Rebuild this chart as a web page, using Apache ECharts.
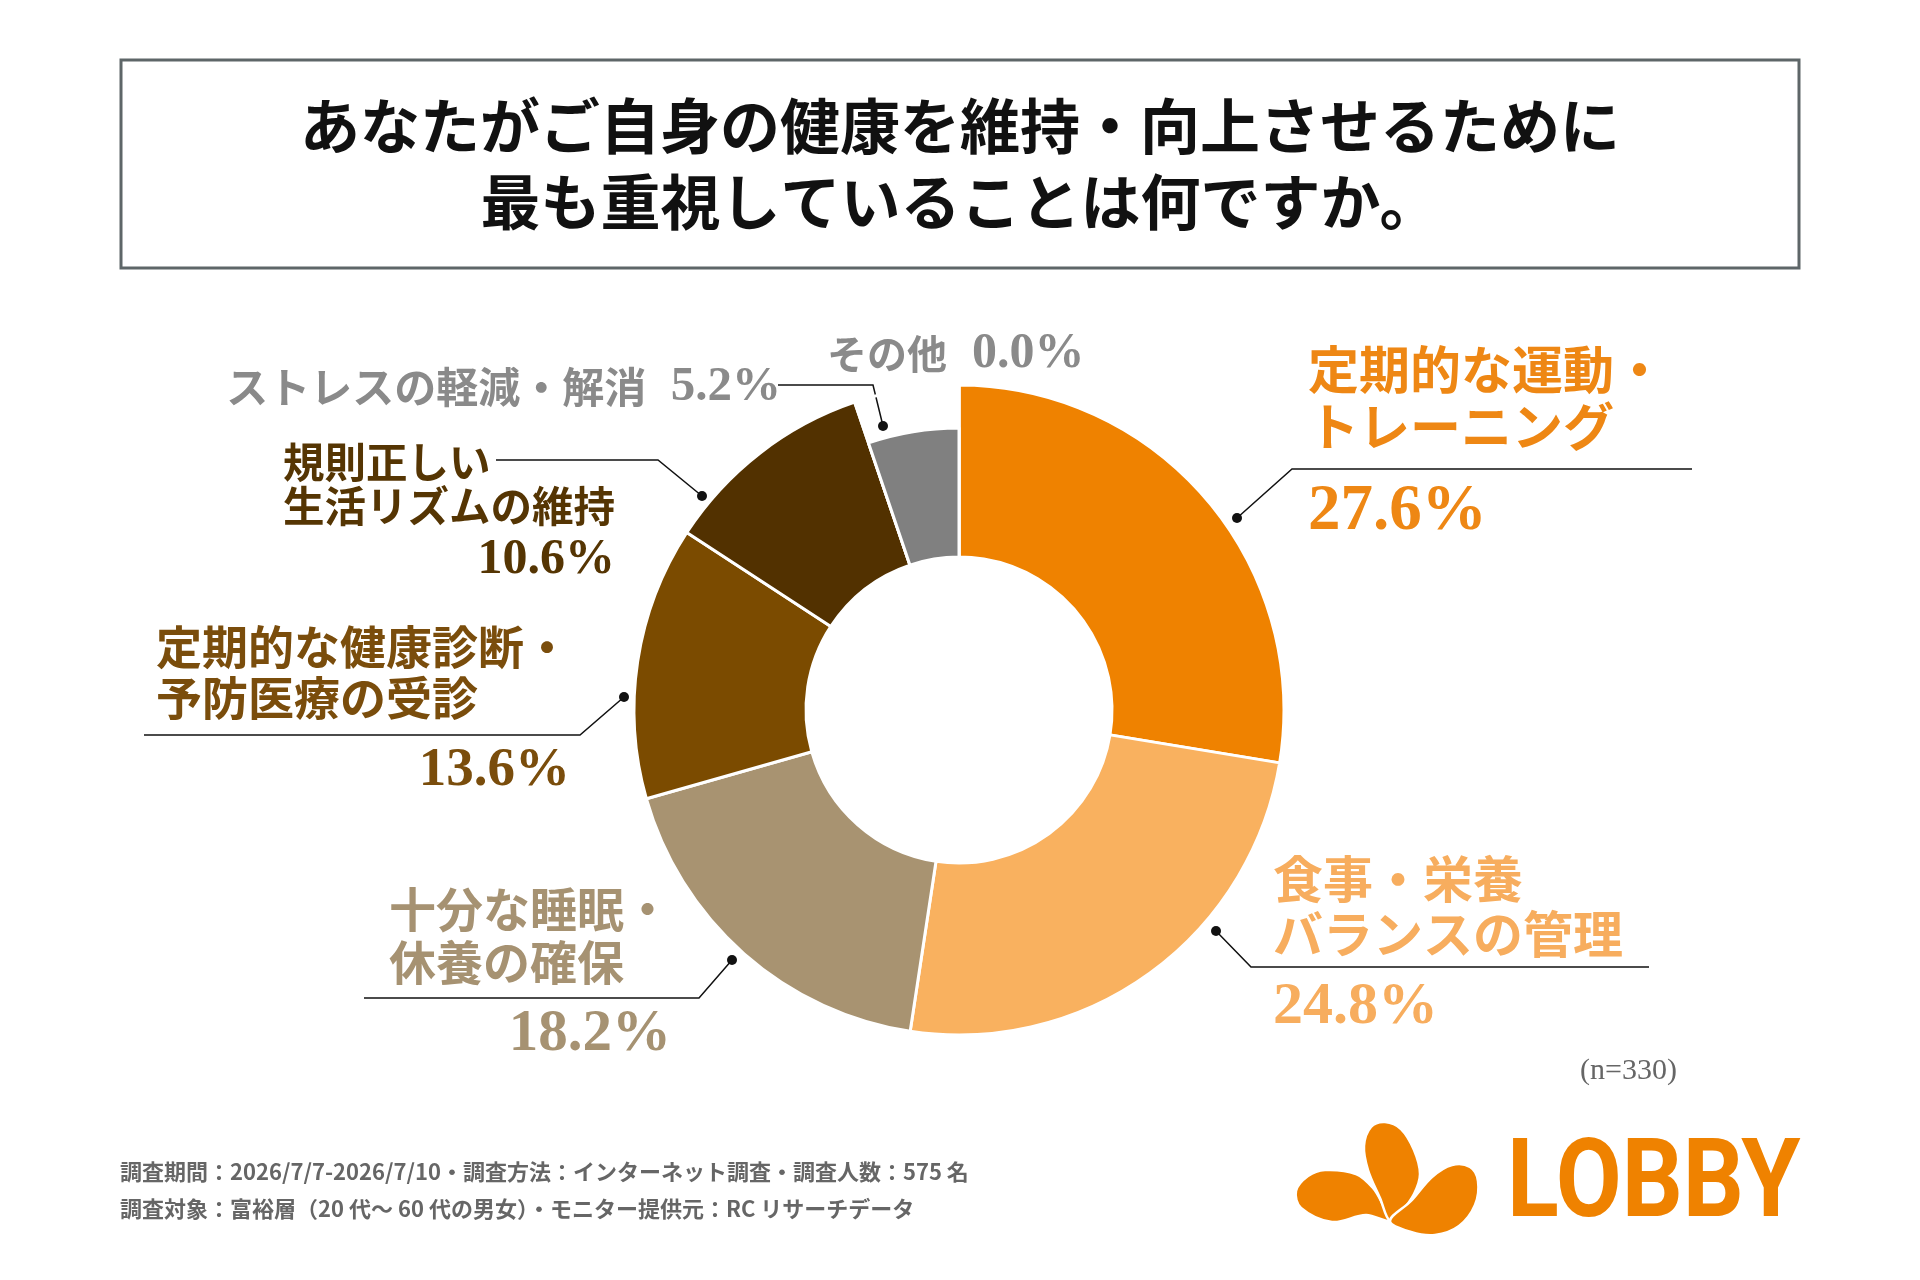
<!DOCTYPE html>
<html><head><meta charset="utf-8">
<script src="https://cdn.jsdelivr.net/npm/echarts@6/dist/echarts.min.js"></script>
<style>html,body{margin:0;padding:0;background:#fff}#c{width:1920px;height:1280px}</style>
</head><body><div id="c"></div>
<script>
// ---- data ----
const categories = ['定期的な運動・\nトレーニング','食事・栄養\nバランスの管理','十分な睡眠・\n休養の確保','定期的な健康診断・\n予防医療の受診','規則正しい\n生活リズムの維持','ストレスの軽減・解消','その他'];
const values = [27.6, 24.8, 18.2, 13.6, 10.6, 5.2, 0.0];
const colors = ['#EF8200','#F9B15F','#A89371','#7B4B00','#523100','#808080','#808080'];
const textColors = ['#EE8714','#F7AD5E','#A69272','#7A4D0C','#553503','#8A8A8A','#8A8A8A'];
const titleLines = ['あなたがご自身の健康を維持・向上させるために','最も重視していることは何ですか。'];
const footerLines = ['調査期間：2026/7/7-2026/7/10・調査方法：インターネット調査・調査人数：575 名','調査対象：富裕層（20 代～ 60 代の男女）・モニター提供元：RC リサーチデータ'];
const sampleNote = '(n=330)';
const brand = 'LOBBY';

// ---- layout (positions / sizes only) ----
const JP = "'Noto Sans CJK JP', sans-serif";
const SERIF = "'Liberation Serif', 'DejaVu Serif', serif";
const labelPos = [
  {x:1308,y:341.5,align:'left',va:'top',n:51,nlh:57,p:65,plh:113,line:[[1237,518],[1292,469],[1692,469]]},
  {x:1273,y:851.5,align:'left',va:'top',n:50,nlh:55,p:60,plh:91,line:[[1216,931],[1251,967],[1649,967]]},
  {x:389,y:882.5,align:'left',va:'top',w:282,n:47,nlh:53,p:59,plh:93,line:[[732,960],[699,998],[364,998]]},
  {x:156,y:621.5,align:'left',va:'top',w:414,n:46,nlh:51,p:55,plh:95,line:[[624,697],[580,735],[144,735]]},
  {x:283,y:440,align:'left',va:'top',w:332,n:41.5,nlh:44,p:50,plh:64,line:[[702,496],[658,460],[496,460]]},
  {x:781,y:387,align:'right',va:'middle',single:true,gap:'  ',n:42,nlh:50,p:49,plh:50,line:[[883,426],[873,385],[778,385]]},
  {x:827,y:354,align:'left',va:'middle',single:true,gap:'  ',n:40,nlh:50,p:50,plh:50,line:null}
];
const center = [959, 710];
const outerR = 325, innerR = 153, smallOuterR = 282;

function pct(v){ return v.toFixed(1) + '%'; }

const dataA = categories.map((name, i) => {
  const L = labelPos[i];
  let fmt;
  if (L.single) {
    fmt = '{n|' + name + '}{p|' + L.gap + pct(values[i]) + '}';
  } else {
    fmt = name.split('\n').map(s => '{n|' + s + '}').join('\n') + '\n{p|' + pct(values[i]) + '}';
  }
  const lab = {
    show: true,
    formatter: fmt,
    overflow: 'none',
    rich: {
      n: {fontFamily: JP, fontWeight: 'bold', fontSize: L.n, lineHeight: L.nlh, color: textColors[i]},
      p: {fontFamily: SERIF, fontWeight: 'bold', fontSize: L.p, lineHeight: L.plh, color: textColors[i], align: L.w ? 'right' : 'left'}
    }
  };
  if (L.w) lab.width = L.w;
  return {
    name: name, value: values[i],
    itemStyle: {color: i === 5 ? 'rgba(0,0,0,0)' : colors[i]},
    label: lab,
    labelLine: {show: L.line != null}
  };
});

const dataB = categories.map((name, i) => ({
  name: name, value: values[i],
  itemStyle: {color: i === 5 ? colors[i] : 'rgba(0,0,0,0)', borderWidth: i === 5 ? 3 : 0}
}));

const graphics = [
  {type:'rect', shape:{x:121,y:60,width:1678,height:208}, style:{fill:'#fff',stroke:'#5E6668',lineWidth:3}, z:-1},
  {type:'text', x:960, y:126, style:{text:titleLines[0], font:"bold 60px 'Noto Sans CJK JP'", fill:'#111', align:'center', verticalAlign:'middle'}},
  {type:'text', x:960, y:202, style:{text:titleLines[1], font:"bold 60px 'Noto Sans CJK JP'", fill:'#111', align:'center', verticalAlign:'middle'}},
  {type:'text', x:120, y:1172, style:{text:footerLines[0], font:"bold 22px 'Noto Sans CJK JP'", fill:'#666', verticalAlign:'middle'}},
  {type:'text', x:120, y:1209, style:{text:footerLines[1], font:"bold 22px 'Noto Sans CJK JP'", fill:'#666', verticalAlign:'middle'}},
  {type:'text', x:1677, y:1071, style:{text:sampleNote, font:"30px 'Liberation Serif'", fill:'#666', align:'right', verticalAlign:'middle'}},
  {type:'polygon', shape:{smooth:0.35, points:[[1390,1221],[1366,1215],[1332,1222],[1301,1208],[1296,1191],[1308,1176],[1325,1170],[1356,1174],[1373,1188],[1383,1205]]}, style:{fill:'#EF8200',stroke:'#fff',lineWidth:2.5}},
  {type:'polygon', shape:{smooth:0.35, points:[[1390,1221],[1380,1198],[1368,1170],[1364,1146],[1371,1127],[1385,1122],[1401,1129],[1414,1150],[1420,1174],[1414,1194],[1401,1212]]}, style:{fill:'#EF8200',stroke:'#fff',lineWidth:2.5}},
  {type:'polygon', shape:{smooth:0.35, points:[[1390,1221],[1411,1201],[1432,1177],[1452,1165],[1470,1167],[1478,1181],[1475,1205],[1459,1226],[1435,1235],[1411,1232]]}, style:{fill:'#EF8200',stroke:'#fff',lineWidth:2.5}},
  {type:'text', x:1507, y:1188, scaleX:0.87, style:{text:brand, font:"bold 110px Roboto", fill:'#EF8200', align:'left', verticalAlign:'middle'}}
];
labelPos.forEach(L => { if (L.line) graphics.push({type:'circle', shape:{cx:L.line[0][0], cy:L.line[0][1], r:5}, style:{fill:'#111'}, z:100}); });

const chart = echarts.init(document.getElementById('c'), null, {renderer:'canvas'});
chart.setOption({
  backgroundColor: '#fff',
  animation: false,
  graphic: graphics,
  series: [
    {
      type: 'pie', center: center, radius: [innerR, outerR], startAngle: 90, clockwise: true,
      avoidLabelOverlap: false, silent: true, emphasis: {disabled: true},
      itemStyle: {borderColor: '#fff', borderWidth: 3},
      label: {position: 'outside', overflow: 'none'},
      labelLine: {show: true, lineStyle: {color: '#111', width: 1.5}},
      labelLayout: function (params) {
        const L = labelPos[params.dataIndex];
        const o = {x: L.x, y: L.y, align: L.align, verticalAlign: L.va, hideOverlap: false};
        if (L.line) o.labelLinePoints = L.line;
        return o;
      },
      data: dataA, z: 2
    },
    {
      type: 'pie', center: center, radius: [innerR, smallOuterR], startAngle: 90, clockwise: true,
      silent: true, emphasis: {disabled: true},
      itemStyle: {borderColor: '#fff'},
      label: {show: false}, labelLine: {show: false},
      data: dataB, z: 3
    }
  ]
});
</script>
</body></html>
